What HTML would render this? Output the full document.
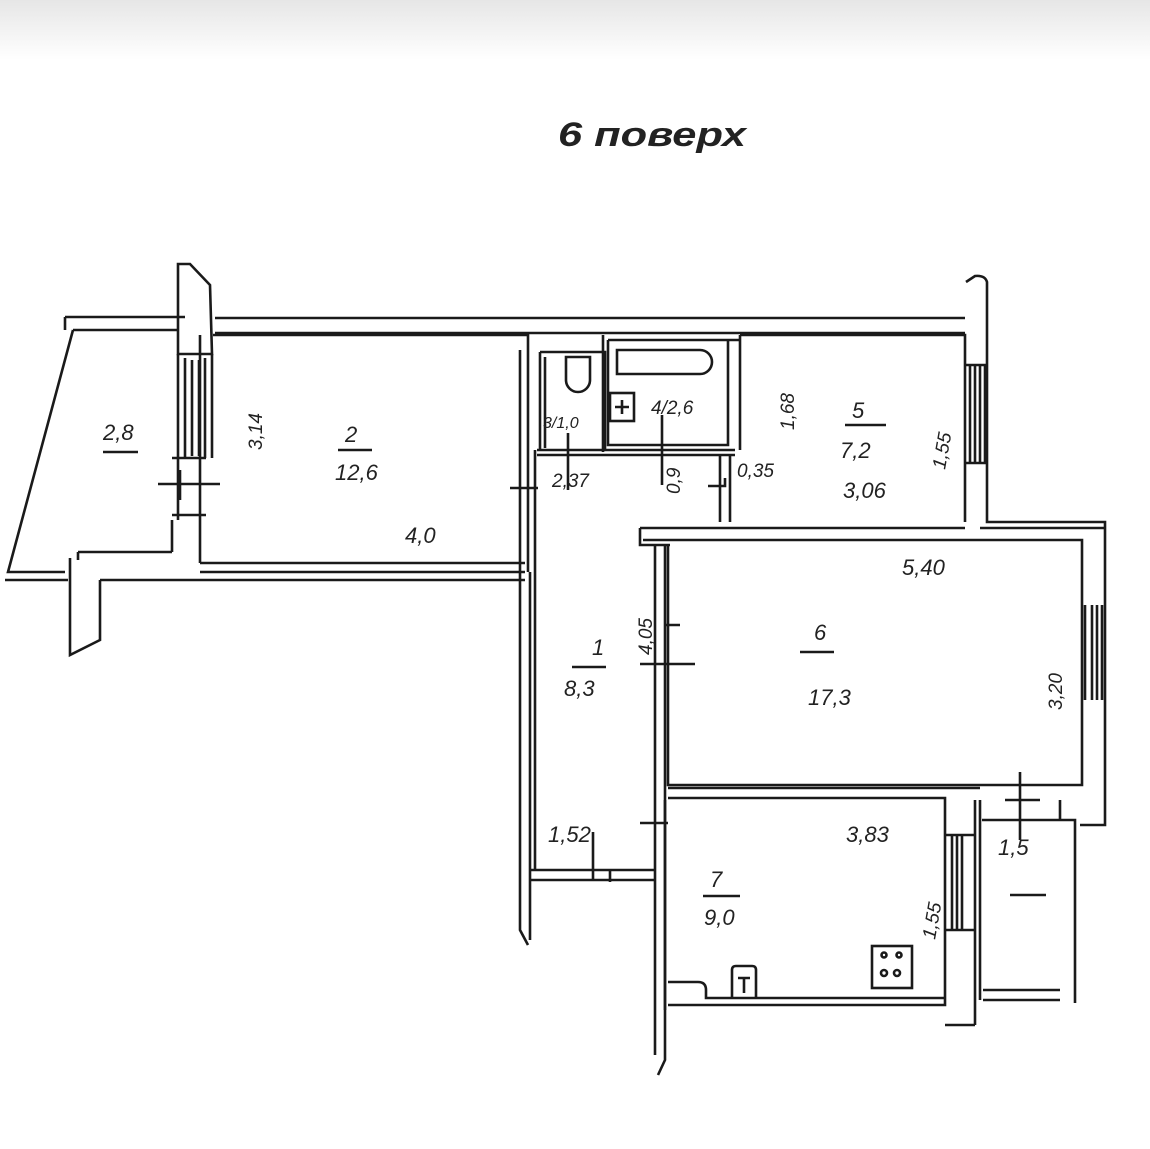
<!DOCTYPE html>
<html><head><meta charset="utf-8"><style>
html,body{margin:0;padding:0;background:#fff}
svg{display:block}
text{font-family:"Liberation Sans",sans-serif;font-style:italic;fill:#222}
</style></head><body>
<svg width="1150" height="1149" viewBox="0 0 1150 1149" xmlns="http://www.w3.org/2000/svg">
<defs><linearGradient id="g" x1="0" y1="0" x2="0" y2="1"><stop offset="0" stop-color="#e6e6e6"/><stop offset="1" stop-color="#fff"/></linearGradient></defs>
<rect width="1150" height="1149" fill="#fff"/>
<rect width="1150" height="60" fill="url(#g)"/>
<text x="558" y="146" font-size="34" font-weight="bold" textLength="188" lengthAdjust="spacingAndGlyphs">6 поверх</text>
<g stroke="#1a1a1a" stroke-width="2.6" fill="none" stroke-linejoin="miter">
<!-- balcony left -->
<path d="M65,317 H185 M65,317 V330 M73,330 H178"/>
<path d="M73,330 L8,572 H65"/>
<path d="M5,580 H68"/>
<!-- left column -->
<path d="M178,264 L190,264 L210,285 L212,354 H178 Z"/>
<path d="M178,354 V520 M212,354 V458"/>
<path d="M185,358 V458 M205,358 V458 M192,360 V456 M199,360 V456"/>
<path d="M172,458 H206 M172,515 H206"/>
<path d="M158,484 H220 M180,470 V500"/>
<path d="M172,520 V552 M78,552 V560 M78,552 H172"/>
<path d="M200,335 V563"/>
<!-- lower left column -->
<path d="M70,558 V655 L100,640 V580"/>
<path d="M100,580 H525"/>
<path d="M200,563 H525 M200,572 H525"/>
<!-- top walls -->
<path d="M215,318 H965 M215,333 H965"/>
<path d="M213,335 H528 V572"/>
<!-- corridor left -->
<path d="M520,350 V572 M530,572 V940 M520,572 V930 L528,945"/>
<path d="M535,450 V870 M510,488 H538"/>
<!-- wc 3 -->
<path d="M540,352 H605 V450 M545,357 V448 M540,352 V450"/>
<path d="M566,357 V380 A10,10 0 0 0 590,380 V357 Z"/>
<!-- bath 4 -->
<path d="M603,335 V452 M608,340 V445 H728 V340 M608,340 H740 M740,335 V450"/>
<path d="M617,350 H700 A12,12 0 0 1 700,374 H617 Z"/>
<rect x="610" y="393" width="24" height="28"/>
<path d="M622,400 V414 M615,407 H629"/>
<path d="M537,450 H735 M537,455 H735"/>
<path d="M720,455 V522 M730,455 V522"/>
<path d="M568,433 V490 M662,415 V485 M708,486 H725 V478"/>
<!-- room 5 -->
<path d="M740,335 H965 V522"/>
<path d="M966,282 L975,276 Q985,275 987,282 V522 H1105 V825 H1080"/>
<path d="M970,365 V463 M985,365 V463 M975,365 V463 M980,365 V463 M966,365 H987 M966,463 H987"/>
<!-- room 6 -->
<path d="M640,528 H965 M640,528 V545 H670 M980,528 H1105"/>
<path d="M643,540 H1082 V785 H668 V545"/>
<path d="M655,545 V1055 M665,545 V1060 L658,1075"/>
<path d="M1085,605 V700 M1102,605 V700 M1092,605 V700 M1097,605 V700"/>
<path d="M640,664 H695 M665,625 H680"/>
<path d="M1020,772 V840 M1005,800 H1040"/>
<!-- room 7 -->
<path d="M668,788 H980 M668,798 H945 V1005 H668"/>
<path d="M665,800 V1010 M975,800 V1025 M945,1025 H975"/>
<path d="M952,835 V930 M962,835 V930 M957,835 V930 M945,835 H975 M945,930 H975"/>
<path d="M640,823 H668 M593,832 V880"/>
<path d="M530,870 H655 M530,880 H655 M610,870 V882"/>
<!-- kitchen fixtures -->
<path d="M668,982 H698 Q706,982 706,990 V998 H945"/>
<path d="M732,998 V970 Q732,966 736,966 H752 Q756,966 756,970 V998"/>
<path d="M738,978 H750 M744,978 V993"/>
<rect x="872" y="946" width="40" height="42"/>
<circle cx="884" cy="955" r="2.5"/><circle cx="899" cy="955" r="2.5"/>
<circle cx="884" cy="973" r="3"/><circle cx="897" cy="973" r="3"/>
<!-- balcony 1.5 -->
<path d="M980,800 V1000 M982,820 H1075 V1003 M983,990 H1060 M983,1000 H1060"/>
<path d="M1060,800 V820"/>
</g>
<g stroke="#1a1a1a" stroke-width="2.6">
<path d="M103,452 H138"/><path d="M338,450 H372"/><path d="M845,425 H886"/>
<path d="M572,667 H606"/><path d="M800,652 H834"/><path d="M703,896 H740"/>
<path d="M1010,895 H1046"/>
</g>
<g font-size="22">
<text x="103" y="440">2,8</text>
<text x="345" y="442">2</text>
<text x="335" y="480">12,6</text>
<text x="405" y="543">4,0</text>
<text x="543" y="428" font-size="16">3/1,0</text>
<text x="651" y="414" font-size="19">4/2,6</text>
<text x="552" y="487" font-size="19">2,37</text>
<text x="737" y="477" font-size="19">0,35</text>
<text x="852" y="418">5</text>
<text x="840" y="458">7,2</text>
<text x="843" y="498">3,06</text>
<text x="902" y="575">5,40</text>
<text x="592" y="655">1</text>
<text x="564" y="696">8,3</text>
<text x="814" y="640">6</text>
<text x="808" y="705">17,3</text>
<text x="548" y="842">1,52</text>
<text x="846" y="842">3,83</text>
<text x="710" y="887">7</text>
<text x="704" y="925">9,0</text>
<text x="998" y="855">1,5</text>
</g>
<g font-size="19">
<text transform="translate(262,450) rotate(-90)">3,14</text>
<text transform="translate(794,430) rotate(-90)">1,68</text>
<text transform="translate(945,470) rotate(-80)">1,55</text>
<text transform="translate(680,494) rotate(-90)">0,9</text>
<text transform="translate(652,655) rotate(-90)">4,05</text>
<text transform="translate(1062,710) rotate(-90)">3,20</text>
<text transform="translate(935,940) rotate(-80)">1,55</text>
</g>
</svg>
</body></html>
